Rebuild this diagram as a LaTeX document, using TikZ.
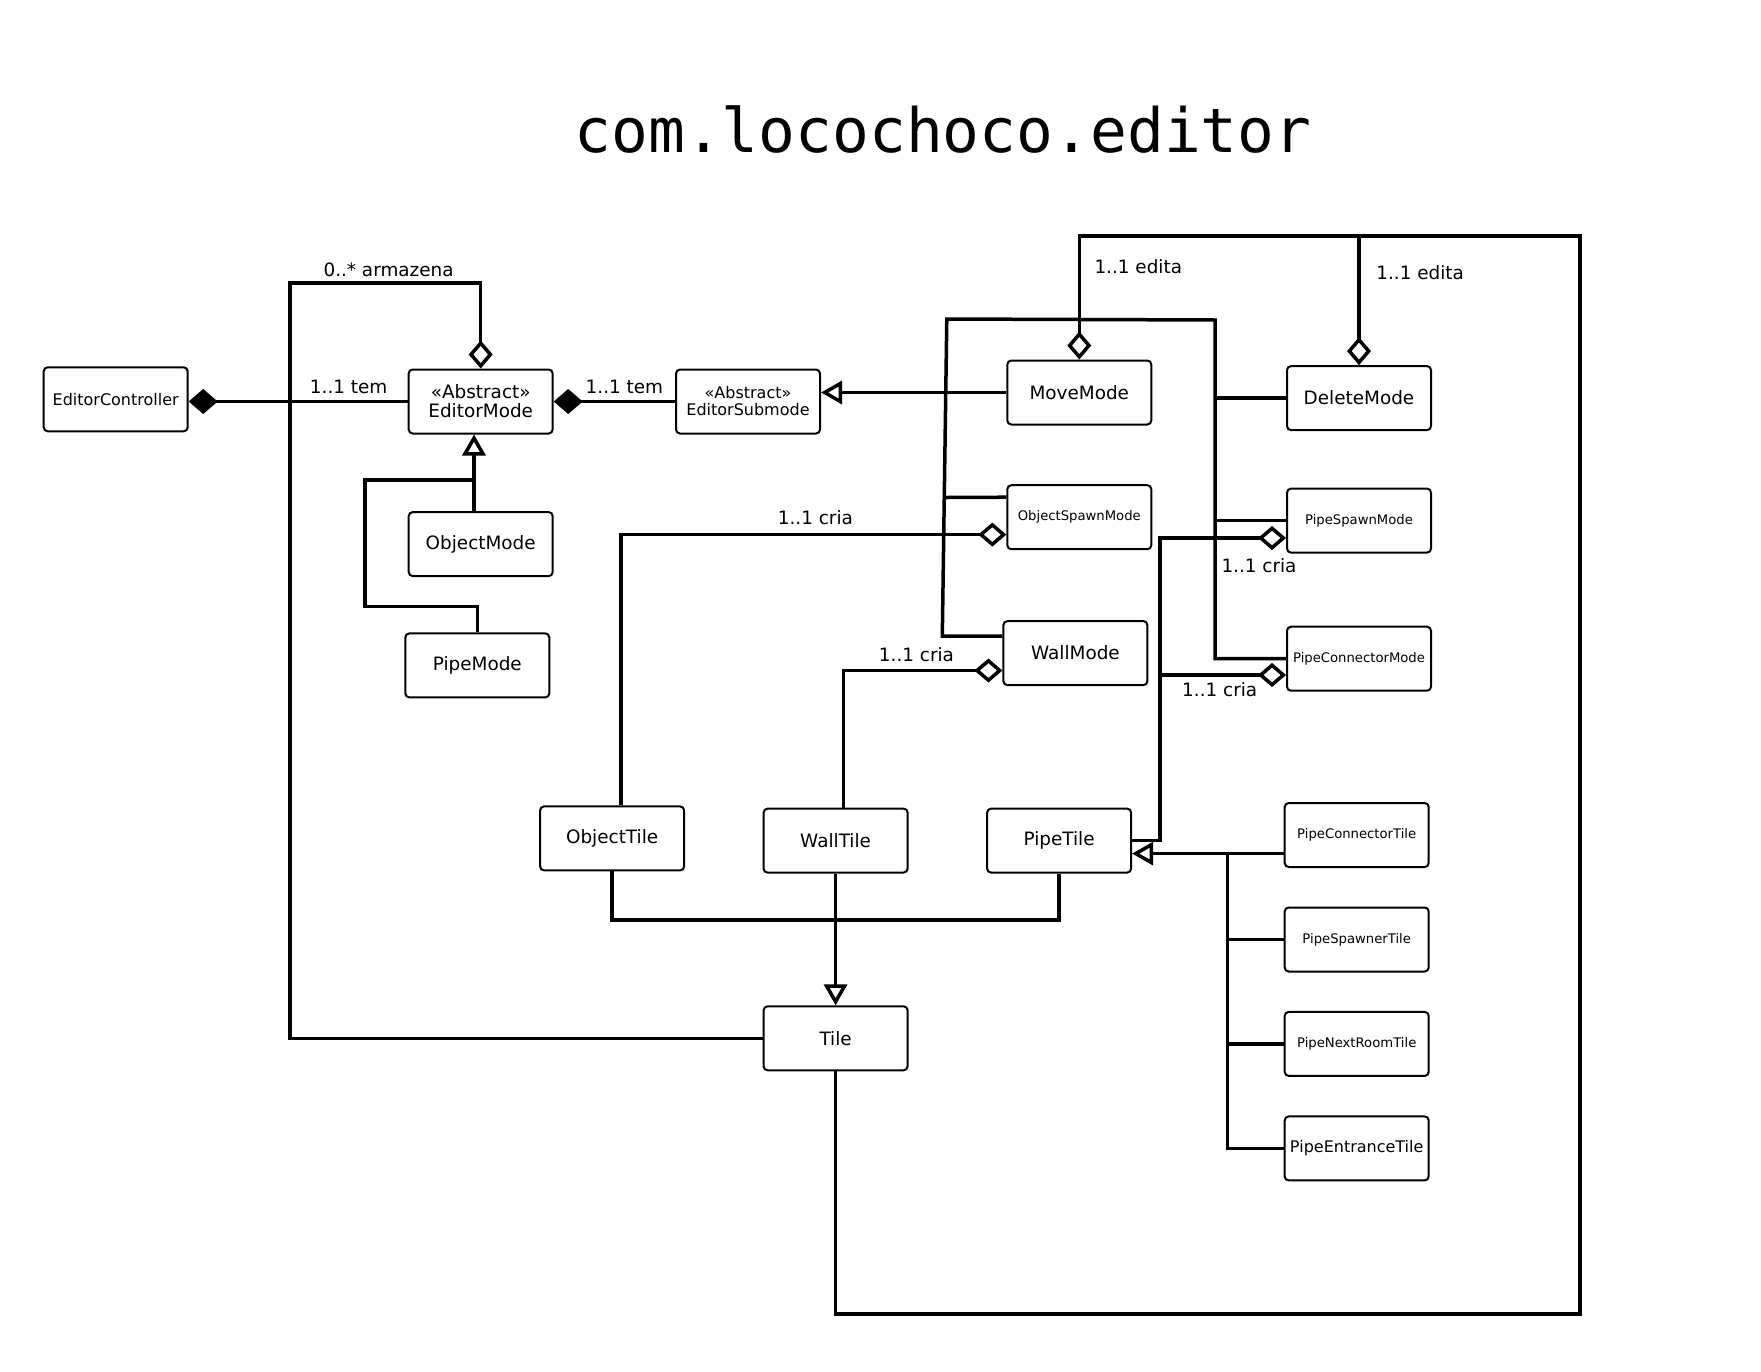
\documentclass[tikz,border=0pt]{standalone}
\usepackage{fontspec}
\setmainfont{DejaVu Sans}
\newfontfamily\titlefont{DejaVu Sans Mono}
\usepackage{tikz}
\usetikzlibrary{arrows.meta, calc, positioning}

\begin{document}
\begin{tikzpicture}[x=0.5pt, y=-0.5pt, line join=miter,
  classbox/.style={draw, line width=1pt, rounded corners=2pt, fill=white,
    minimum width=72pt, minimum height=32pt, inner sep=0pt, align=center,
    font=\fontsize{9.2}{9.5}\selectfont},
  midbox/.style={classbox, font=\fontsize{8}{8.5}\selectfont},
  smallbox/.style={classbox, font=\fontsize{6.6}{8}\selectfont},
  link/.style={line width=1.75pt},
  comp/.style={link, -{Diamond[length=14.5pt, width=12.5pt]}},
  agg/.style={link, -{Diamond[open, length=14pt, width=12pt]}},
  gen/.style={link, -{Triangle[open, length=10.5pt, width=11.5pt]}},
  mult/.style={font=\fontsize{9.2}{11}\selectfont, inner sep=0pt}]
  \useasboundingbox (0,0) rectangle (1761,1371);
  % titel
  \node[font=\titlefont\fontsize{30.6}{34}\selectfont] (title) at (943,130) {com.locochoco.editor};
  % klasser
  \node[midbox] (EditorController) at (115.7,399.3) {EditorController};
  \node[classbox] (EditorMode) at (480.7,401.5) {«Abstract»\\EditorMode};
  \node[midbox] (EditorSubmode) at (748,401.5) {«Abstract»\\EditorSubmode};
  \node[classbox] (ObjectMode) at (480.7,544.1) {ObjectMode};
  \node[classbox] (PipeMode) at (477.3,665.4) {PipeMode};
  \node[classbox] (MoveMode) at (1079.3,392.5) {MoveMode};
  \node[smallbox] (ObjectSpawnMode) at (1079.3,517.2) {ObjectSpawnMode};
  \node[classbox] (WallMode) at (1075.4,653.1) {WallMode};
  \node[classbox] (DeleteMode) at (1359,398.1) {DeleteMode};
  \node[smallbox] (PipeSpawnMode) at (1359,520.6) {PipeSpawnMode};
  \node[smallbox] (PipeConnectorMode) at (1359,658.7) {PipeConnectorMode};
  \node[classbox] (ObjectTile) at (612.1,838.4) {ObjectTile};
  \node[classbox] (WallTile) at (835.6,840.6) {WallTile};
  \node[classbox] (PipeTile) at (1059.1,840.6) {PipeTile};
  \node[classbox] (Tile) at (835.6,1038.3) {Tile};
  \foreach \nm/\yy in {PipeConnectorTile/835, PipeSpawnerTile/939.5, PipeNextRoomTile/1043.9}{
    \node[smallbox] (\nm) at (1356.7,\yy) {\nm};
  }
  \node[midbox] (PipeEntranceTile) at (1356.7,1148.4) {PipeEntranceTile};
  % komposition
  \draw[comp] (EditorMode.west) -- (EditorMode.west -| EditorController.east);
  \node[mult] (temA) at (348.7,386.5) {1..1 tem};
  \draw[comp] (EditorSubmode.west) -- (EditorMode.east);
  \node[mult] (temB) at (624.4,386.5) {1..1 tem};
  % armazena
  \draw[agg] (Tile.west) -| (290,283) -| (EditorMode.north);
  \node[mult] (armazena) at (388.6,269.5) {0..* armazena};
  % EditorMode arv
  \coordinate (modeJoin) at (474,480);
  \draw[gen] (ObjectMode.north -| modeJoin) -- (EditorMode.south -| modeJoin);
  \draw[link] (PipeMode.north) |- (365,606.5) |- (modeJoin);
  % EditorSubmode arv
  \coordinate (busL) at (946.8,319);
  \coordinate (busR) at (1215.2,320);
  \draw[gen] (MoveMode.west) -- (MoveMode.west -| EditorSubmode.east);
  \draw[link] ($(WallMode.west)+(0,-17)$) -- (942.3,636) -- (busL) -- (busR) |- (PipeConnectorMode.west);
  \draw[link] ($(ObjectSpawnMode.west)+(0,-20)$) -- (945.5,497.5);
  \draw[link] (DeleteMode.west) -- (DeleteMode.west -| busR);
  \draw[link] (PipeSpawnMode.west) -- (PipeSpawnMode.west -| busR);
  % edita
  \coordinate (editTop) at (1580.2,236);
  \draw[agg] (Tile.south) |- (1580.2,1314) -- (editTop) -| (MoveMode.north);
  \draw[agg] (DeleteMode.north |- editTop) -- (DeleteMode.north);
  \node[mult] (editaA) at (1138.3,266.7) {1..1 edita};
  \node[mult] (editaB) at (1420.2,272.9) {1..1 edita};
  % cria
  \draw[agg] ($(ObjectTile.north)+(9,0)$) |- ($(ObjectSpawnMode.west)+(0,17.4)$);
  \node[mult] (criaA) at (815.4,517.8) {1..1 cria};
  \draw[agg] ($(WallTile.north)+(8,0)$) |- ($(WallMode.west)+(0,17.4)$);
  \node[mult] (criaB) at (916.5,655) {1..1 cria};
  \draw[agg] (PipeTile.east) -| ($(PipeSpawnMode.west)+(-126,17.4)$) -- ($(PipeSpawnMode.west)+(0,17.4)$);
  \node[mult] (criaC) at (1259,565.5) {1..1 cria};
  \draw[agg] ($(PipeConnectorMode.west)+(-126,16.3)$) -- ($(PipeConnectorMode.west)+(0,16.3)$);
  \node[mult] (criaD) at (1219.7,690) {1..1 cria};
  % PipeTile arv
  \coordinate (tileBus) at (1227.5,853.6);
  \draw[gen] ($(PipeConnectorTile.west)+(0,18.6)$) -- ($(PipeTile.east)+(0,13)$);
  \draw[link] (tileBus) |- (PipeEntranceTile.west);
  \foreach \nm in {PipeSpawnerTile, PipeNextRoomTile}{
    \draw[link] (\nm.west) -- (tileBus |- \nm.west);
  }
  % Tile arv
  \coordinate (tileJoin) at (835.6,920);
  \draw[gen] (WallTile.south) -- (Tile.north);
  \draw[link] (ObjectTile.south) |- (tileJoin) -| (PipeTile.south);
\end{tikzpicture}
\end{document}
